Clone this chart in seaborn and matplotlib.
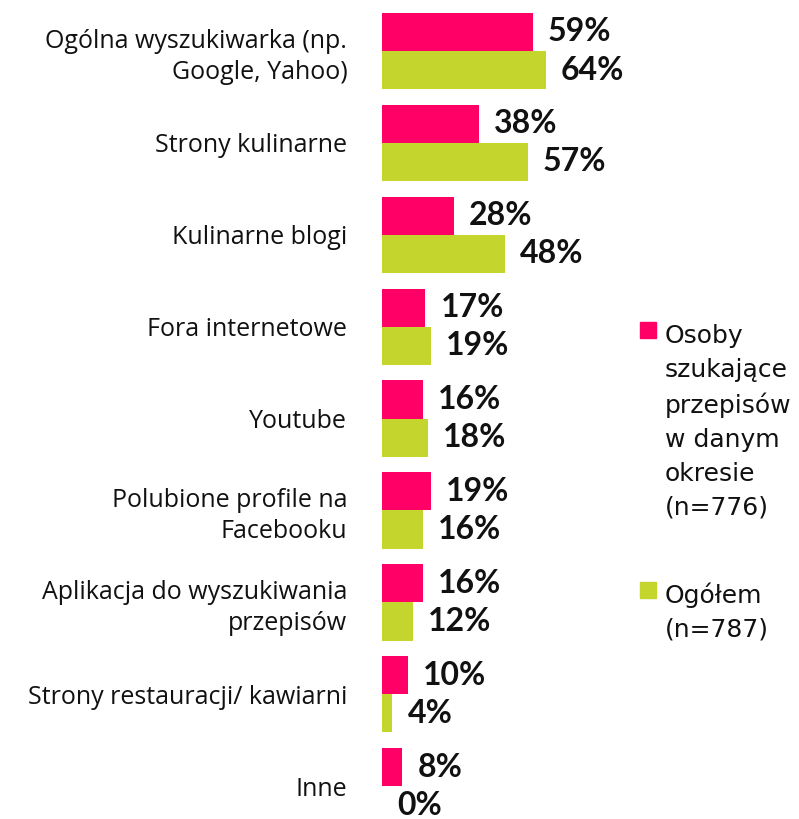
import matplotlib
matplotlib.use("Agg")
import matplotlib.pyplot as plt
from matplotlib.patches import Rectangle
import seaborn as sns
import pandas as pd

categories = [
    "Ogólna wyszukiwarka (np.\nGoogle, Yahoo)",
    "Strony kulinarne",
    "Kulinarne blogi",
    "Fora internetowe",
    "Youtube",
    "Polubione profile na\nFacebooku",
    "Aplikacja do wyszukiwania\nprzepisów",
    "Strony restauracji/ kawiarni",
    "Inne",
]
seekers = [59, 38, 28, 17, 16, 19, 16, 10, 8]
overall = [64, 57, 48, 19, 18, 16, 12, 4, 0]
series_names = [
    "Osoby\nszukające\nprzepisów\nw danym\nokresie\n(n=776)",
    "Ogółem\n(n=787)",
]
colors = ["#FF0066", "#C4D52E"]

df = pd.DataFrame({
    "category": categories * 2,
    "value": seekers + overall,
    "series": [series_names[0]] * len(categories) + [series_names[1]] * len(categories),
})

sns.set_style("white")
plt.rcParams["font.family"] = ["Lato", "DejaVu Sans"]

fig = plt.figure(figsize=(7.99, 8.19), dpi=100)
ax = fig.add_axes([382 / 799, 0, 417 / 799, 1])

sns.barplot(data=df, y="category", x="value", hue="series", palette=colors,
            saturation=1, orient="h", width=0.83, linewidth=0, legend=False, ax=ax)

ax.set_xlim(0, 163.2)
ax.set_ylim(8.357, -0.555)
ax.set_xlabel("")
ax.set_ylabel("")
ax.set_xticks([])
sns.despine(ax=ax, left=True, bottom=True)
ax.tick_params(axis="y", length=0, pad=25)
for lab in ax.get_yticklabels():
    lab.set_fontsize(18)
    lab.set_family(["Open Sans", "DejaVu Sans"])
    lab.set_horizontalalignment("right")
    lab.set_multialignment("right")
    lab.set_linespacing(1.3)
    lab.set_color("#111111")

for cont in ax.containers:
    ax.bar_label(cont, labels=[f"{v:.0f}%" for v in cont.datavalues],
                 padding=11, fontsize=23, fontweight="bold", color="#111111",
                 clip_on=False)

# legend drawn by hand so the markers sit next to the first line
line_px = 34.6
first_base = [342, 602]
for name, col, yb in zip(series_names, colors, first_base):
    n_lines = name.count("\n") + 1
    fig.patches.append(Rectangle((640 / 799, 1 - (yb - 4) / 819), 16 / 799, 16 / 819,
                                 transform=fig.transFigure, color=col))
    fig.text(665 / 799, 1 - (yb + (n_lines - 1) * line_px) / 819, name,
             fontsize=18, family="DejaVu Sans", va="baseline", ha="left",
             linespacing=1.52, color="#111111")

fig.savefig("out.png", dpi=100)
